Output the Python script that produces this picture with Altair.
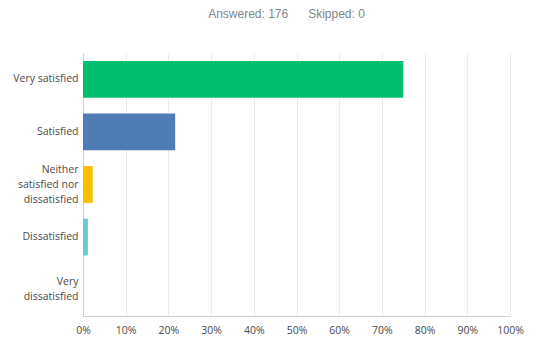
import altair as alt
import pandas as pd

categories = ["Very satisfied", "Satisfied", "Neither\nsatisfied nor\ndissatisfied", "Dissatisfied", "Very\ndissatisfied"]
percents = [75.00, 21.59, 2.27, 1.14, 0.0]
colors = ["#00BF6F", "#507CB6", "#F9BE00", "#6BC8CD", "#97A0A8"]
title_text = "Answered: 176" + "\u00a0" * 6 + "Skipped: 0"

df = pd.DataFrame({"category": categories, "pct": percents})

label_offset = {
    "condition": [
        {"test": "length(split(datum.value, '\\n')) == 3", "value": -15},
        {"test": "length(split(datum.value, '\\n')) == 2", "value": -7.5},
    ],
    "value": 0,
}

chart = alt.Chart(df).mark_bar().encode(
    y=alt.Y("category:N", sort=categories, title=None,
            scale=alt.Scale(paddingInner=0.3, paddingOuter=0.15),
            axis=alt.Axis(labelExpr="split(datum.label, '\\n')", labelLineHeight=15,
                          labelOffset=label_offset,
                          labelFontSize=10.5, labelColor="#4a4a4a", labelFont="Open Sans",
                          labelPadding=5, ticks=False, domainColor="#d0d0d0", grid=False)),
    x=alt.X("pct:Q", title=None, scale=alt.Scale(domain=[0, 100]),
            axis=alt.Axis(values=list(range(0, 101, 10)), labelExpr="datum.value + '%'",
                          labelFontSize=10.5, labelColor="#4a4a4a", labelFont="Open Sans",
                          labelPadding=9, ticks=False, domainColor="#d0d0d0",
                          labelFlush=False, gridColor="#ececec")),
    color=alt.Color("category:N", sort=categories, scale=alt.Scale(domain=categories, range=colors), legend=None),
).properties(
    width=427, height=263,
    title=alt.TitleParams(title_text, fontSize=12, font="Liberation Sans",
                          fontWeight="normal", color="#7d8790", anchor="middle", dx=-10, offset=32),
    padding={"left": 83, "top": 53, "right": 37, "bottom": 30},
    autosize=alt.AutoSizeParams(type="none"),
).configure_view(stroke=None)

chart.save("out.html", embed_options={"renderer": "svg", "actions": False})
